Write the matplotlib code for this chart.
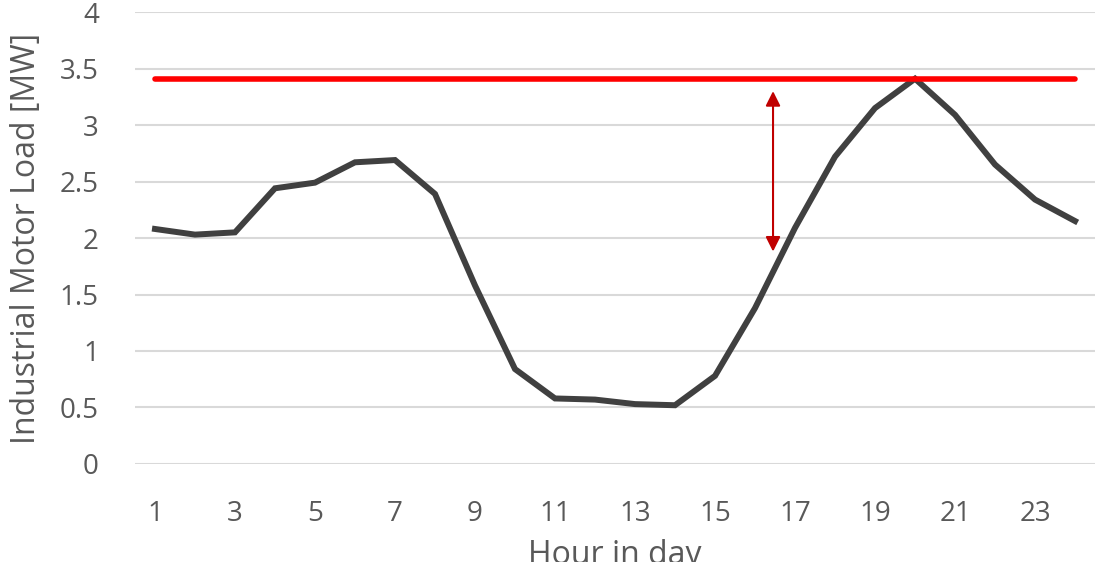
import numpy as np
import matplotlib.pyplot as plt

# Hourly industrial motor load over one day
hours = list(range(1, 25))
load_mw = [2.08, 2.03, 2.05, 2.44, 2.49, 2.67, 2.69, 2.39, 1.58, 0.84,
           0.58, 0.57, 0.53, 0.52, 0.78, 1.38, 2.09, 2.72, 3.15, 3.41,
           3.09, 2.65, 2.34, 2.15]
peak_mw = 3.41
arrow_hour = 16.45
arrow_low = 1.88
xtick_hours = list(range(1, 24, 2))
ytick_vals = [0, 0.5, 1, 1.5, 2, 2.5, 3, 3.5, 4]

plt.rcParams['font.family'] = ['Open Sans', 'DejaVu Sans']
grey = '#595959'

fig = plt.figure(figsize=(11.01, 5.62), dpi=100)
ax = fig.add_axes([0.1226, 0.1744, 0.872, 0.8042])

ax.plot(hours, load_mw, color='#404040', lw=4.3, solid_joinstyle='miter', zorder=3)
ax.plot([hours[0], hours[-1]], [peak_mw, peak_mw], color='#FF0000', lw=4.0,
        solid_capstyle='round', zorder=4)
ax.annotate('', xy=(arrow_hour, arrow_low), xytext=(arrow_hour, peak_mw - 0.11),
            arrowprops=dict(arrowstyle='<|-|>', color='#C00000', lw=1.5,
                            mutation_scale=22, shrinkA=0, shrinkB=0))

ax.set_xlim(0.5, 24.5)
ax.set_ylim(0, 4)
ax.set_xticks(xtick_hours)
ax.set_yticks(ytick_vals)
ax.set_yticklabels([f'{v:g}' for v in ytick_vals])
ax.yaxis.grid(True, color='#D9D9D9', lw=1.5)
ax.set_axisbelow(True)
for s in ax.spines.values():
    s.set_visible(False)
ax.tick_params(length=0, labelsize=20, labelcolor=grey)
ax.tick_params(axis='y', pad=26)
ax.tick_params(axis='x', pad=26)
ax.set_ylabel('Industrial Motor Load [MW]', fontsize=23, color=grey, labelpad=12)
ax.set_xlabel('Hour in day', fontsize=23, color=grey, labelpad=8)

fig.savefig('out.png', dpi=100)
